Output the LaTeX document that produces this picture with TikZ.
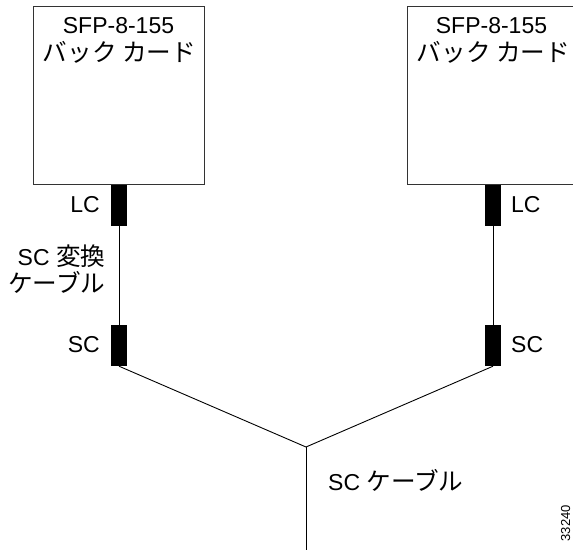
\documentclass[tikz,border=0pt]{standalone}
\usepackage{fontspec}
\setmainfont{Liberation Sans}
\newfontfamily\jp{Noto Sans CJK JP}[Scale=1.07]
\begin{document}
\begin{tikzpicture}[x=1pt,y=-1pt,
  card/.style={draw=black!80, line width=0.9pt, minimum width=171pt, minimum height=178pt, inner sep=0pt},
  conn/.style={fill=black, draw=none, minimum width=16pt, minimum height=41pt, inner sep=0pt},
  lbl/.style={inner sep=0pt, font=\fontsize{23}{27}\selectfont},
  wire/.style={line width=0.9pt, black}]
\useasboundingbox (0,0) rectangle (573,549);
\clip (0,0) rectangle (573,549);
% cards
\node[card] (card1) at (118.5,95) {};
\node[card] (card2) at (492.5,95) {};
\node[lbl, anchor=base] (t1a) at (118.5,33) {SFP-8-155};
\node[lbl, anchor=base] (t1b) at (119.5,61) {\jp バック カード};
\node[lbl, anchor=base] (t2a) at (491.5,33) {SFP-8-155};
\node[lbl, anchor=base] (t2b) at (493.5,61) {\jp バック カード};
% connectors
\node[conn] (lc1) at (119,205.5) {};
\node[conn] (sc1) at (119,345.5) {};
\node[conn] (lc2) at (493,205.5) {};
\node[conn] (sc2) at (493,345.5) {};
\coordinate (j) at (306,447);
\coordinate (bot) at (306,552);
% wires
\draw[wire] (lc1.south) -- (sc1.north);
\draw[wire] (lc2.south) -- (sc2.north);
\draw[wire] (sc1.south) -- (j);
\draw[wire] (sc2.south) -- (j);
\draw[wire] (j) -- (bot);
% labels
\node[lbl, anchor=base east] (l1) at (100,212) {LC};
\node[lbl, anchor=base east] (s1) at (100,352) {SC};
\node[lbl, anchor=base west] (l2) at (511,212) {LC};
\node[lbl, anchor=base west] (s2) at (511,352) {SC};
\node[lbl, anchor=base east] (cv1) at (105.5,265) {SC {\jp 変換}};
\node[lbl, anchor=base east] (cv2) at (105.5,292) {\jp ケーブル};
\node[lbl, anchor=base west] (scc) at (328,490) {SC {\jp ケーブル}};
\node[inner sep=0pt, rotate=90, anchor=base east, font=\fontsize{13}{15}\selectfont] (fig) at (570,505) {33240};
\end{tikzpicture}
\end{document}
